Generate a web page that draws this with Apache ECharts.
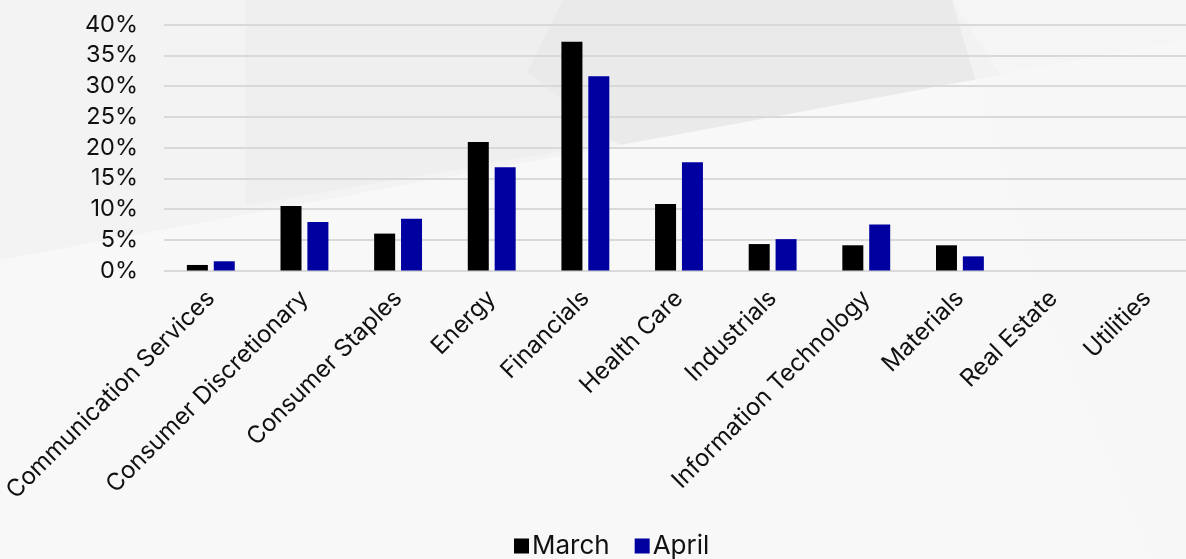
<!DOCTYPE html>
<html>
<head>
<meta charset="utf-8">
<title>Sector weights</title>
<script src="https://cdn.jsdelivr.net/npm/echarts@6/dist/echarts.min.js"></script>
<style>
  html, body { margin: 0; padding: 0; background: #f8f8f8; }
  #chart { width: 1186px; height: 559px; }
</style>
</head>
<body>
<div id="chart"></div>
<script>
// Sector categories on the x axis
const sectors = [
  'Communication Services', 'Consumer Discretionary', 'Consumer Staples',
  'Energy', 'Financials', 'Health Care', 'Industrials',
  'Information Technology', 'Materials', 'Real Estate', 'Utilities'
];
// Weights in percent
const marchValues = [0.9, 10.5, 6.0, 20.9, 37.2, 10.8, 4.3, 4.1, 4.1, 0, 0];
const aprilValues = [1.5, 7.9, 8.4, 16.8, 31.6, 17.6, 5.1, 7.5, 2.3, 0, 0];
const seriesNames = ['March', 'April'];

const FONT = 'Inter, "Noto Sans", sans-serif';

const chart = echarts.init(document.getElementById('chart'), null, { renderer: 'canvas' });

chart.setOption({
  backgroundColor: '#f8f8f8',
  animation: false,
  textStyle: { fontFamily: FONT },
  // soft decorative backdrop shapes
  graphic: [
    { type: 'polygon', z: -10, silent: true,
      shape: { points: [[0, 0], [1186, 0], [1186, 40], [0, 260]] },
      style: { fill: '#f3f3f3' } },
    { type: 'polygon', z: -9, silent: true,
      shape: { points: [[245, 0], [952, 0], [1000, 75], [245, 206]] },
      style: { fill: '#efefef' } },
    { type: 'polygon', z: -8, silent: true,
      shape: { points: [[563, 0], [952, 0], [1000, 75], [620, 145], [527, 72]] },
      style: { fill: '#eaeaea' } },
    { type: 'polygon', z: -7, silent: true,
      shape: { points: [[952, 0], [1186, 0], [1186, 559], [1150, 559], [1040, 300]] },
      style: { fill: '#f6f6f6', opacity: 0.6 } }
  ],
  legend: {
    data: seriesNames,
    left: 509,
    bottom: -5,
    itemWidth: 15,
    itemHeight: 15,
    itemGap: 25,
    icon: 'rect',
    textStyle: { fontFamily: FONT, fontSize: 26, color: '#111', padding: [0, 0, 0, -2] }
  },
  grid: {
    left: 164, top: 24.5, width: 1030, bottom: 288.5,
    containLabel: false,
    outerBoundsMode: 'none'
  },
  xAxis: {
    type: 'category',
    data: sectors,
    axisLine: { show: false },
    axisTick: { show: false },
    axisLabel: {
      rotate: 45,
      interval: 0,
      margin: 24,
      fontFamily: FONT,
      fontSize: 24,
      color: '#111'
    }
  },
  yAxis: {
    type: 'value',
    min: 0,
    max: 40,
    interval: 5,
    axisLine: { show: false },
    axisTick: { show: false },
    axisLabel: {
      formatter: '{value}%',
      margin: 26,
      fontFamily: FONT,
      fontSize: 23.5,
      color: '#111'
    },
    splitLine: { lineStyle: { color: '#d9d9d9', width: 2 } }
  },
  series: [
    {
      name: seriesNames[0],
      type: 'bar',
      data: marchValues,
      barWidth: 21,
      barGap: '28%',
      itemStyle: { color: '#000000' }
    },
    {
      name: seriesNames[1],
      type: 'bar',
      data: aprilValues,
      barWidth: 21,
      barGap: '28%',
      itemStyle: { color: '#0000a0' }
    }
  ]
});
</script>
</body>
</html>
